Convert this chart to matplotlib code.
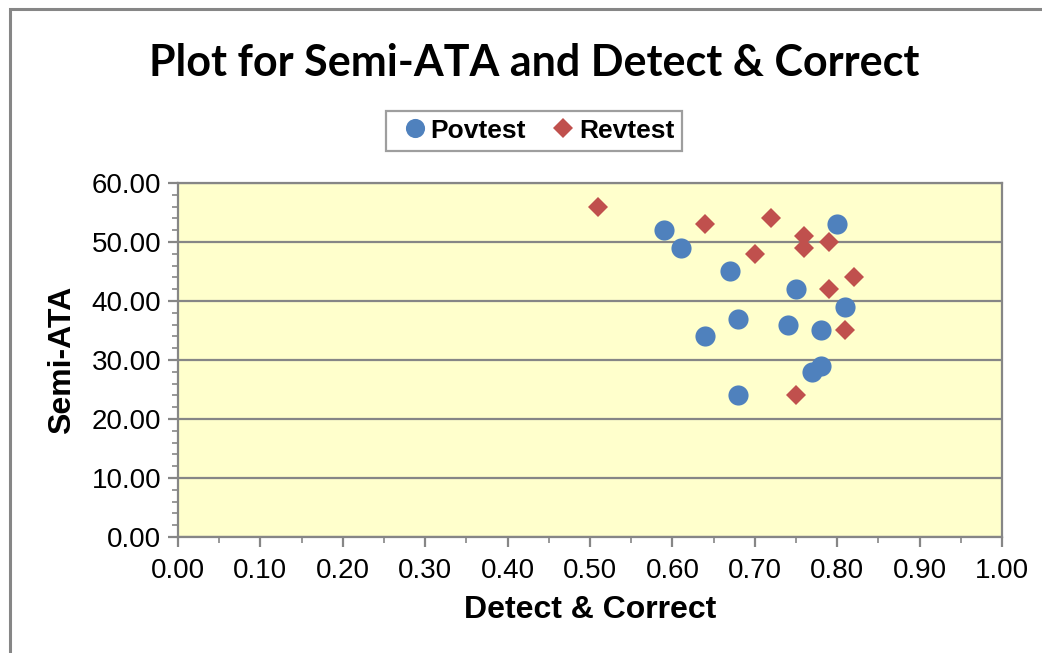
import matplotlib
matplotlib.use("Agg")
import matplotlib.pyplot as plt
from matplotlib.patches import Rectangle
from matplotlib.ticker import MultipleLocator, FormatStrFormatter

# Povtest series
pov_x = [0.59, 0.61, 0.67, 0.75, 0.80, 0.81, 0.68, 0.74, 0.78, 0.64, 0.78, 0.77, 0.68]
pov_y = [52, 49, 45, 42, 53, 39, 37, 36, 35, 34, 29, 28, 24]

# Revtest series
rev_x = [0.51, 0.64, 0.72, 0.76, 0.76, 0.79, 0.70, 0.82, 0.79, 0.81, 0.75]
rev_y = [56, 53, 54, 51, 49, 50, 48, 44, 42, 35, 24]

title = "Plot for Semi-ATA and Detect & Correct"
x_label = "Detect & Correct"
y_label = "Semi-ATA"

plt.rcParams["font.family"] = ["Liberation Sans", "DejaVu Sans"]

grey = "#868686"
blue = "#4F81BD"
red = "#C0504D"

fig = plt.figure(figsize=(10.42, 6.53), dpi=100)
ax = fig.add_axes([0.1708, 0.1776, 0.7908, 0.5422])
ax.set_facecolor("#FFFFCC")

ax.plot(pov_x, pov_y, "o", color=blue, markersize=14.5, markeredgewidth=0,
        label="Povtest", zorder=3)
ax.plot(rev_x, rev_y, "D", color=red, markersize=10.2, markeredgewidth=0,
        label="Revtest", zorder=3)

ax.set_xlim(0, 1)
ax.set_ylim(0, 60)
ax.xaxis.set_major_locator(MultipleLocator(0.1))
ax.xaxis.set_minor_locator(MultipleLocator(0.05))
ax.yaxis.set_major_locator(MultipleLocator(10))
ax.yaxis.set_minor_locator(MultipleLocator(2))
ax.xaxis.set_major_formatter(FormatStrFormatter("%.2f"))
ax.yaxis.set_major_formatter(FormatStrFormatter("%.2f"))

ax.grid(axis="y", which="major", color=grey, linewidth=1.6, zorder=1)
ax.set_axisbelow(True)
for sp in ax.spines.values():
    sp.set_color(grey)
    sp.set_linewidth(1.6)

ax.tick_params(which="major", direction="out", length=7, width=1.6, color=grey,
               labelsize=20, pad=5)
ax.tick_params(axis="x", which="major", pad=8)
ax.tick_params(which="minor", direction="out", length=4, width=1.2, color=grey)

fig.text(0.5125, 0.903, title, ha="center", va="center", fontsize=31,
         fontweight="bold", family=["Lato", "DejaVu Sans"])
fig.text(0.566, 0.066, x_label, ha="center", va="center", fontsize=23,
         fontweight="bold")
fig.text(0.060, 0.449, y_label, ha="center", va="center", fontsize=23,
         fontweight="bold", rotation=90)

leg = fig.legend(loc="center", bbox_to_anchor=(0.5125, 0.8), ncol=2,
                 prop={"weight": "bold", "size": 19}, frameon=True,
                 fancybox=False, handletextpad=-0.2, columnspacing=0.6,
                 handlelength=1.6, borderpad=0.3, markerscale=0.95)
leg.get_frame().set_edgecolor(grey)
leg.get_frame().set_linewidth(1.6)

# outer chart border
fig.patches.append(Rectangle((10 / 1042, -0.1), 1.2, 1 - 9 / 653 + 0.1,
                             transform=fig.transFigure, fill=False,
                             edgecolor=grey, linewidth=2.2))

fig.savefig("out.png", dpi=100)
